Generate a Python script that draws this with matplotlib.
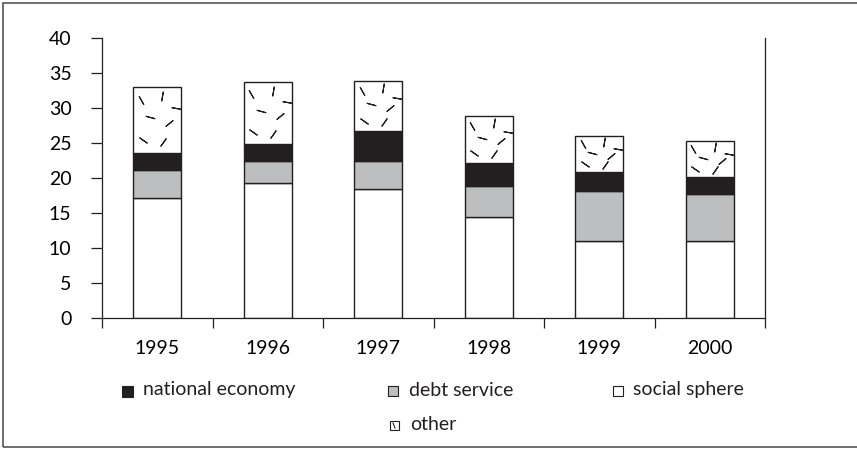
import numpy as np
import matplotlib
matplotlib.use("Agg")
import matplotlib.pyplot as plt
from matplotlib.patches import Rectangle
from matplotlib.lines import Line2D

plt.rcParams['font.family'] = ['Lato', 'DejaVu Sans']

years = ['1995', '1996', '1997', '1998', '1999', '2000']
social_sphere = [17.1, 19.3, 18.4, 14.4, 11.0, 11.0]
debt_service = [4.0, 3.1, 4.0, 4.5, 7.1, 6.7]
national_economy = [2.5, 2.4, 4.3, 3.2, 2.7, 2.4]
other = [9.4, 8.9, 7.2, 6.8, 5.2, 5.2]

W, H = 857, 449
ink = '#231f20'
grey = '#bcbec0'

fig = plt.figure(figsize=(W / 100, H / 100), dpi=100)
ax = fig.add_axes([102 / W, 1 - 318 / H, (765 - 102) / W, (318 - 38) / H])

x = np.arange(len(years))
bw = 0.43
b1 = np.array(social_sphere)
b2 = b1 + np.array(debt_service)
b3 = b2 + np.array(national_economy)
ax.bar(x, social_sphere, bw, color='white', edgecolor=ink, linewidth=1.0)
ax.bar(x, debt_service, bw, bottom=b1, color=grey, edgecolor=ink, linewidth=1.0)
ax.bar(x, national_economy, bw, bottom=b2, color=ink, edgecolor=ink, linewidth=1.0)
ax.bar(x, other, bw, bottom=b3, color='white', edgecolor=ink, linewidth=1.0)

# scattered-dash texture for the "other" block
pattern = [(0.15, 0.85, 30), (0.6, 0.92, -10), (0.9, 0.7, 80), (0.35, 0.55, 75),
           (0.75, 0.45, -50), (0.2, 0.15, 55), (0.62, 0.12, -35)]
for xi, bot, h in zip(x, b3, other):
    for fx_, fy_, ang in pattern:
        px = xi - bw / 2 + fx_ * bw
        py = bot + 0.6 + fy_ * (h - 1.2)
        ax.plot(px, py, marker=(2, 2, ang), ms=7, mew=0.8, color=ink, ls='none')

ax.set_xlim(-0.5, len(years) - 0.5)
ax.set_ylim(0, 40)
ax.set_yticks(range(0, 41, 5))
ax.set_xticks(np.arange(-0.5, len(years)), [])
ax.set_xticks(x, years, minor=True)
ax.tick_params(axis='y', direction='out', length=8, width=0.9, color=ink, pad=14, labelsize=14)
ax.tick_params(axis='x', which='major', direction='out', length=7.5, width=0.9, color=ink)
ax.tick_params(axis='x', which='minor', length=0, pad=16, labelsize=14)
ax.spines['top'].set_visible(False)
for s in ['left', 'bottom', 'right']:
    ax.spines[s].set_linewidth(0.9)
    ax.spines[s].set_color(ink)

# legend drawn by hand in pixel positions
def fx(px):
    return px / W

def fy(py):
    return 1 - py / H

legend_items = [('national economy', ink, 127, 391, 143, 11),
                ('debt service', grey, 393, 391, 409, 10),
                ('social sphere', 'white', 618, 391, 633, 10),
                ('other', 'white', 394, 425, 410, 9)]
for label, col, mx, my, tx, sz in legend_items:
    fig.add_artist(Rectangle((fx(mx - sz / 2), fy(my + sz / 2)), sz / W, sz / H,
                             transform=fig.transFigure, facecolor=col,
                             edgecolor=ink, linewidth=0.8))
    fig.text(fx(tx), fy(my - 1), label, fontsize=14, va='center', ha='left', color=ink)
fig.add_artist(Line2D([fx(393), fx(395)], [fy(423), fy(428)], transform=fig.transFigure,
                      color=ink, linewidth=0.8))

# outer frame
fig.add_artist(Rectangle((3 / W, fy(447)), 1.0, fy(2.5) - fy(447), transform=fig.transFigure,
                         fill=False, edgecolor='#555555', linewidth=1.2))

fig.savefig('out.png', dpi=100)
